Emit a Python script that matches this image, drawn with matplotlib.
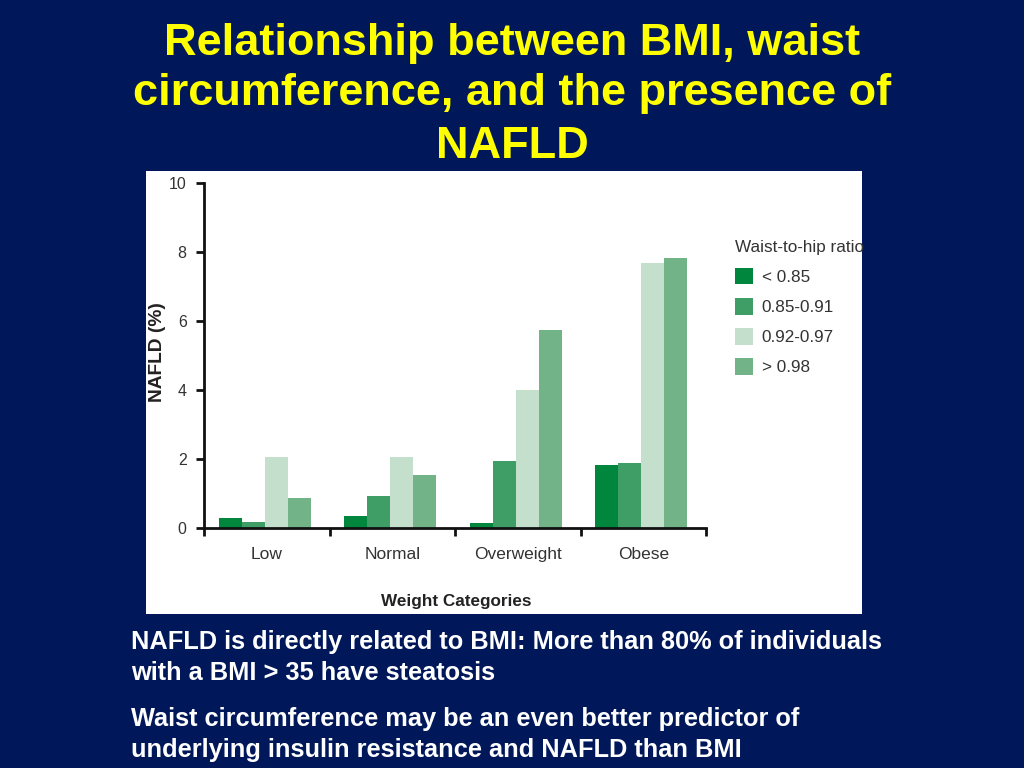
import matplotlib
matplotlib.use("Agg")
import matplotlib.pyplot as plt
from matplotlib.patches import Rectangle
import numpy as np

plt.rcParams['font.family'] = ['Liberation Sans', 'DejaVu Sans']

categories = ["Low", "Normal", "Overweight", "Obese"]
ratio_labels = ["< 0.85", "0.85-0.91", "0.92-0.97", "> 0.98"]
lt_085 = [0.29, 0.35, 0.15, 1.83]
r085_091 = [0.17, 0.93, 1.95, 1.88]
r092_097 = [2.06, 2.06, 4.0, 7.67]
gt_098 = [0.87, 1.54, 5.75, 7.82]
series = [lt_085, r085_091, r092_097, gt_098]
colors = ["#00873D", "#3F9E65", "#C4DFCB", "#72B387"]

title_lines = ["Relationship between BMI, waist",
               "circumference, and the presence of",
               "NAFLD"]
notes = ["NAFLD is directly related to BMI: More than 80% of individuals",
         "with a BMI > 35 have steatosis",
         "Waist circumference may be an even better predictor of",
         "underlying insulin resistance and NAFLD than BMI"]

W, H = 1024, 768
fig = plt.figure(figsize=(W / 100, H / 100), dpi=100)
fig.patch.set_facecolor("#00175A")

# white panel behind the chart
fig.patches.append(Rectangle((146 / W, 1 - 614 / H), 716 / W, 443 / H,
                             transform=fig.transFigure, facecolor="white",
                             edgecolor="none", zorder=0))

for y, line in zip([43, 94, 146], title_lines):
    fig.text(0.5, 1 - y / H, line, ha="center", va="center", color="#FFFF00",
             fontsize=32.5, fontweight="bold")

for y, line in zip([642, 673, 719, 750], notes):
    fig.text(131 / W, 1 - y / H, line, ha="left", va="center", color="white",
             fontsize=18.3, fontweight="bold")

ax = fig.add_axes([204 / W, 1 - 528 / H, 502 / W, 345 / H])
ax.set_facecolor("none")
ax.set_zorder(3)

x = np.arange(len(categories))
bw = 0.183
for i, (vals, c, lab) in enumerate(zip(series, colors, ratio_labels)):
    ax.bar(x + (i - 1.5) * bw - 0.015, vals, width=bw, color=c, label=lab,
           edgecolor="none")

ax.set_xlim(-0.5, 3.5)
ax.set_ylim(0, 10)
ax.set_yticks([0, 2, 4, 6, 8, 10])
ax.set_xticks(x)
ax.set_xticklabels(categories)
ax.set_xticks(np.arange(-0.5, 3.6, 1), minor=True)
ax.tick_params(axis="x", which="major", length=0, pad=13.5, labelsize=12.5,
               labelcolor="#333333")
ax.tick_params(axis="x", which="minor", length=6, width=2, direction="out",
               color="#111111")
ax.tick_params(axis="y", length=6, width=2, direction="out", color="#111111",
               labelsize=11.5, labelcolor="#333333", pad=6.5)

for s in ["top", "right"]:
    ax.spines[s].set_visible(False)
for s in ["left", "bottom"]:
    ax.spines[s].set_linewidth(2)
    ax.spines[s].set_color("#111111")

ax.set_ylabel("NAFLD (%)", fontsize=13.8, fontweight="bold", color="#222222")
ax.yaxis.set_label_coords(-38 / 502, 0.51)
ax.set_xlabel("Weight Categories", fontsize=12.3, fontweight="bold",
              color="#222222")
ax.xaxis.set_label_coords(0.502, -0.19)

leg = ax.legend(loc="upper left", bbox_to_anchor=(728 / W, 1 - 233 / H),
                bbox_transform=fig.transFigure, frameon=False, fontsize=12.3,
                title="Waist-to-hip ratio", title_fontsize=12.3,
                handlelength=1.05, handleheight=1.1, handletextpad=0.53,
                labelspacing=0.77, borderaxespad=0)
leg._legend_box.align = "left"
for t in leg.get_texts():
    t.set_color("#333333")
leg.get_title().set_color("#333333")

fig.savefig("out.png", dpi=100, facecolor=fig.get_facecolor())
